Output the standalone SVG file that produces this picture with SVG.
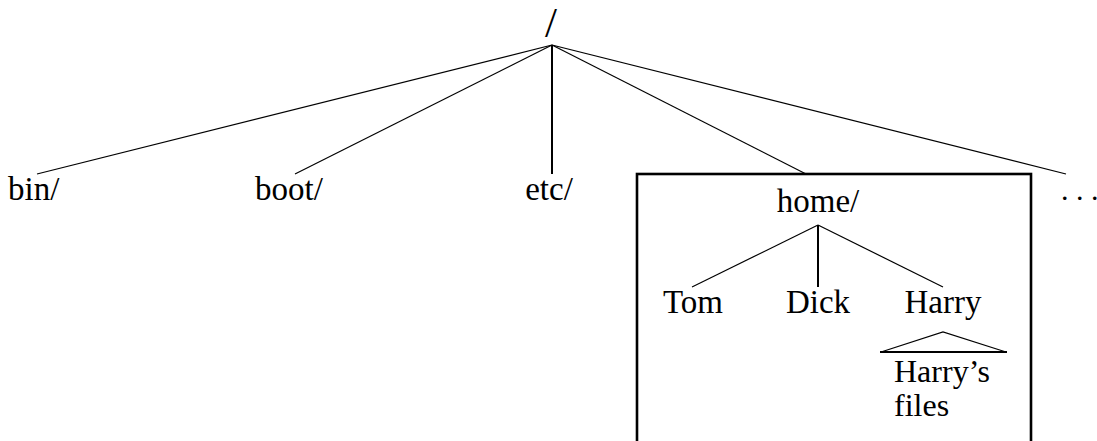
<svg xmlns="http://www.w3.org/2000/svg" width="1097" height="441" viewBox="0 0 1097 441">
  <style>
    .lbl { font-family: "Liberation Serif", "Times New Roman", serif; font-size: 33px; fill: #000; }
    .mid { text-anchor: middle; }
    .edge { stroke: #000; stroke-width: 1.2; fill: none; }
    .stem { stroke: #000; stroke-width: 2; fill: none; }
    .frame { stroke: #000; stroke-width: 2.6; fill: none; }
  </style>
  <rect width="1097" height="441" fill="#fff"/>

  <!-- tree edges -->
  <g id="connectors">
    <line class="edge" x1="552" y1="45" x2="37" y2="174"/>
    <line class="edge" x1="552" y1="45" x2="295" y2="174"/>
    <line class="stem" x1="552" y1="45" x2="552" y2="174"/>
    <line class="edge" x1="552" y1="45" x2="806" y2="174"/>
    <line class="edge" x1="552" y1="45" x2="1066" y2="174"/>
    <line class="edge" x1="818" y1="225" x2="692" y2="287"/>
    <line class="stem" x1="818" y1="225" x2="818" y2="287"/>
    <line class="edge" x1="818" y1="225" x2="943" y2="287"/>
  </g>

  <g id="root">
    <text class="lbl mid" x="551" y="37" style="font-size:43px">/</text>
  </g>
  <g id="bin"><text class="lbl" x="8" y="200">bin/</text></g>
  <g id="boot"><text class="lbl" x="255" y="200">boot/</text></g>
  <g id="etc"><text class="lbl mid" x="549" y="200">etc/</text></g>
  <g id="more"><text class="lbl" x="1061" y="200" style="font-size:30px">. . .</text></g>

  <g id="home">
    <rect class="frame" x="637" y="174" width="394" height="280"/>
    <text class="lbl mid" x="818" y="212">home/</text>
  </g>
  <g id="tom"><text class="lbl mid" x="693" y="313">Tom</text></g>
  <g id="dick"><text class="lbl mid" x="818" y="313">Dick</text></g>
  <g id="harry">
    <text class="lbl mid" x="943" y="313">Harry</text>
    <polyline class="edge" points="881,352 943,332 1006,352"/>
    <line class="stem" x1="880" y1="352" x2="1007" y2="352"/>
    <text class="lbl" style="font-size:32px"><tspan x="894" y="382">Harry’s</tspan><tspan x="894" y="416">files</tspan></text>
  </g>
</svg>
